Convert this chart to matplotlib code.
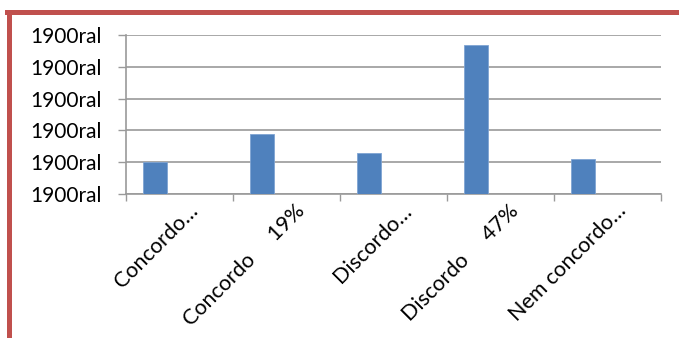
import matplotlib
matplotlib.use("Agg")
import matplotlib.pyplot as plt
from matplotlib.lines import Line2D
from matplotlib.transforms import ScaledTranslation

categories = ["Concordo…", "Concordo     19%", "Discordo…", "Discordo     47%", "Nem concordo…"]
values = [0.10, 0.19, 0.13, 0.47, 0.11]
y_ticks = [0.0, 0.1, 0.2, 0.3, 0.4, 0.5]
y_tick_labels = ["1900ral"] * 6

plt.rcParams["font.family"] = ["Lato", "DejaVu Sans"]

fig = plt.figure(figsize=(6.79, 3.38), dpi=100)
ax = fig.add_axes([126 / 679, (338 - 194) / 338, (661 - 126) / 679, (194 - 35) / 338])

positions = list(range(len(categories)))
ax.bar([p - 0.23 for p in positions], values, width=0.225,
       color="#4F81BD", edgecolor="#7FA4D3", linewidth=0.6, zorder=3)

ax.set_xlim(-0.5, len(categories) - 0.5)
ax.set_ylim(0, 0.5)

ax.set_yticks(y_ticks)
ax.set_yticklabels(y_tick_labels, fontsize=15)
ax.yaxis.grid(True, color="#9A9A9A", linewidth=1.2, zorder=0)
ax.tick_params(axis="y", length=5.8, width=1, color="#9A9A9A", pad=12)

ax.set_xticks([p - 0.5 for p in positions] + [len(categories) - 0.5], minor=True)
ax.set_xticks(positions)
ax.tick_params(axis="x", which="minor", length=5, width=1, color="#9A9A9A", direction="out")
ax.tick_params(axis="x", which="major", length=0)
ax.set_xticklabels(categories, fontsize=15.5, rotation=45, ha="right", va="center",
                   rotation_mode="anchor")
offset = ScaledTranslation(15 / 100, -9 / 100, fig.dpi_scale_trans)
for lbl in ax.get_xticklabels():
    lbl.set_transform(lbl.get_transform() + offset)

for side in ["top", "right"]:
    ax.spines[side].set_visible(False)
ax.spines["left"].set_color("#9A9A9A")
ax.spines["bottom"].set_color("#9A9A9A")
ax.spines["left"].set_linewidth(1.2)
ax.spines["bottom"].set_linewidth(1.2)

# red frame of the embedded chart (left and top edges)
fig.add_artist(Line2D([8.5 / 679, 8.5 / 679], [0, (338 - 12) / 338],
                      transform=fig.transFigure, color="#C0504D", linewidth=3.6))
fig.add_artist(Line2D([7 / 679, 1], [(338 - 12) / 338, (338 - 12) / 338],
                      transform=fig.transFigure, color="#C0504D", linewidth=3.6))

fig.savefig("out.png", dpi=100)
plt.close(fig)
